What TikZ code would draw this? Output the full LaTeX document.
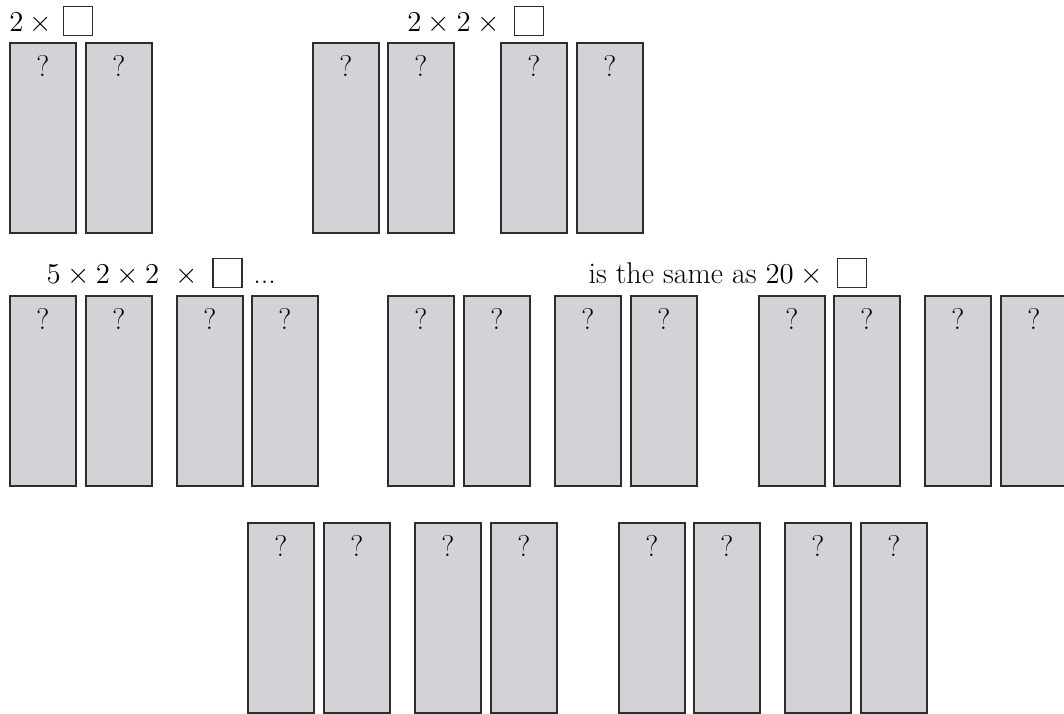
\documentclass[tikz,border=0pt]{standalone}
\usepackage{amsmath}
\usetikzlibrary{positioning}

\definecolor{stripgray}{RGB}{210,211,214}
\definecolor{edgegray}{RGB}{45,45,45}

\tikzset{
  strip/.style={draw=edgegray,fill=stripgray,line width=0.8pt,anchor=north west,
                minimum width=33pt,minimum height=95pt,inner sep=0pt,
                label={[qmark]north:?}},
  qmark/.style={anchor=north,yshift=-6.5pt,inner sep=0pt},
  blank/.style={draw=edgegray,fill=white,line width=0.8pt,minimum size=14.5pt,inner sep=0pt},
  sum/.style={anchor=base east,inner sep=0pt}
}

\begin{document}
\begin{tikzpicture}[x=0.5pt,y=-0.5pt,font=\fontsize{15}{18}\selectfont]
  \useasboundingbox (0,0) rectangle (1064,713);

  % first two questions
  \node[sum,anchor=base west] (t1) at (9,31) {$2\mskip\medmuskip\times$};
  \node[blank] (q1) at (78,21) {};
  \node[sum] (t2) at (500,31) {$2\times2\mskip\medmuskip\times$};
  \node[blank] (q2) at (529,21) {};
  \foreach \x [count=\i] in {9,85,312,387,500,576}
    \node[strip] (a\i) at (\x,42) {};

  % the long product
  \node[sum] (t3) at (198,283) {$5\times2\times2\;\;\times$};
  \node[blank] (q3) at (227.5,273) {};
  \node[anchor=base west,inner sep=0pt] (dots) at (253,283) {...};
  \node[sum] (t4) at (823,283) {is the same as $20\mskip\medmuskip\times$};
  \node[blank] (q4) at (852,273) {};
  \foreach \x [count=\i] in {9,85,176,251,387,463,554,630,758,833,924,1000}
    \node[strip] (b\i) at (\x,295) {};

  % last row
  \foreach \x [count=\i] in {247,323,414,490,618,693,784,860}
    \node[strip] (c\i) at (\x,522) {};
\end{tikzpicture}
\end{document}
